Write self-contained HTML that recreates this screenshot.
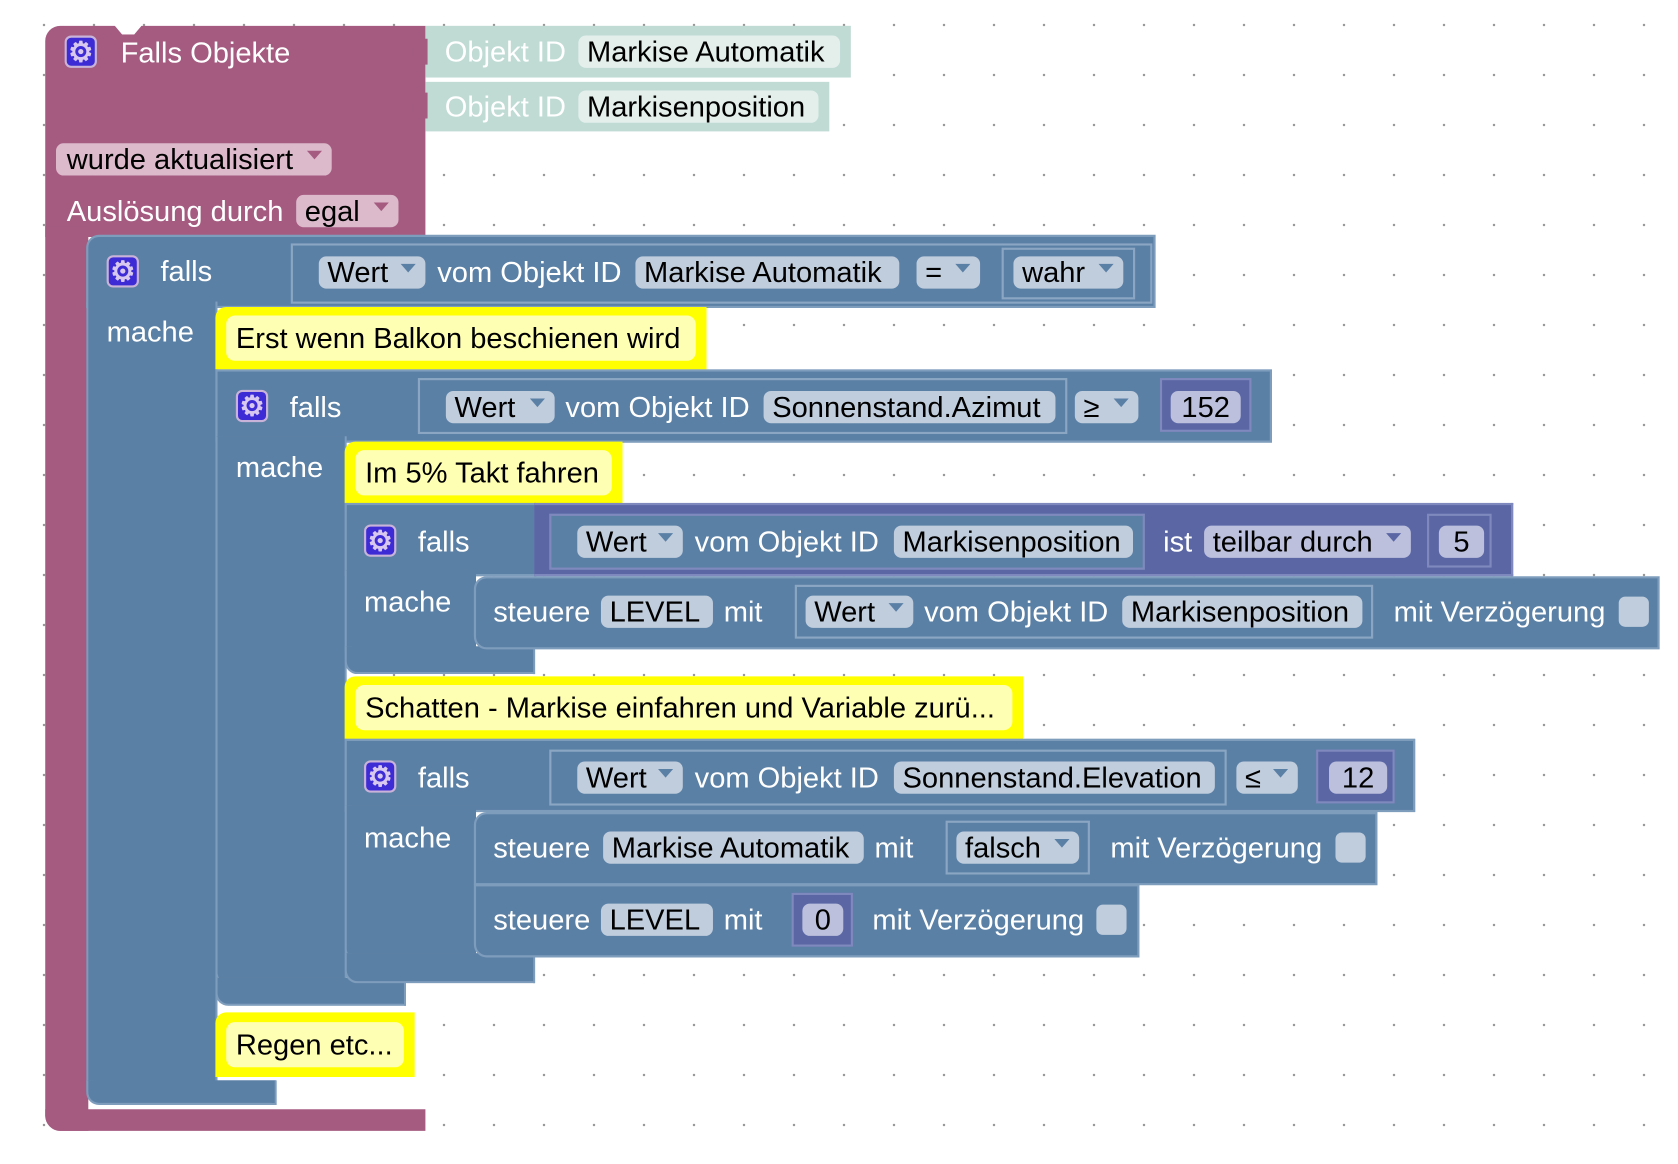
<!DOCTYPE html>
<html><head><meta charset="utf-8">
<style>
html,body{margin:0;padding:0;}
body{width:1678px;height:1164px;overflow:hidden;position:relative;background:#fff;
background-image:radial-gradient(circle,#999 1.1px,transparent 1.4px);background-size:50px 50px;background-position:19px 0px;}
#s{position:absolute;left:0;top:0;width:1558px;height:1081px;transform:scale(1.0770);transform-origin:0 0;font-family:"Liberation Sans",sans-serif;font-size:27px;}
#s div{position:absolute;box-sizing:border-box;}
.pu{background:#a55b80;}
.bl{background:#5b80a5;border:2px solid #7e9dbd;}
.in{background:#5b67a5;border:2px solid #7f89bd;}
.gr{background:#bfdbd4;}
.t{color:#fff;white-space:nowrap;line-height:30px;height:30px;}
.p{background:#c0cddd;color:#000;border-radius:7px;height:30px;line-height:30px;padding:0 8px;white-space:nowrap;}
.pp{background:#dcbacb;}
.pg{background:#e4efec;}
.pi{background:#bcc0dd;}
.ol{border:2px solid #8aa6c3;}
.g{width:30px;height:30px;background:#3d2bd6;border:2px solid #c9b3d8;border-radius:6px;color:#d8c8f0;font-size:26px;font-weight:bold;text-align:center;line-height:26px;}
.dd::after{content:"";position:absolute;right:9px;top:7px;border-left:7px solid transparent;border-right:7px solid transparent;border-top:8px solid #5b80a5;}
.ddp::after{border-top-color:#a55b80;}
.ddi::after{border-top-color:#5b67a5;}
.y{background:#ffff00;}
.yi{background:#ffffb3;border-radius:8px;color:#000;white-space:nowrap;line-height:42px;height:42px;padding:0 9px;}
.cb{width:28px;height:28px;background:#c0cddd;border-radius:6px;}
</style></head><body>
<div id="s">
<div class="pu" style="left:42px;top:24px;width:353px;height:196px;border-radius:14px 0 0 0;"></div>
<div class="pu" style="left:42px;top:210px;width:40px;height:840px;border-radius:0 0 0 14px;"></div>
<div class="pu" style="left:42px;top:1030px;width:353px;height:20px;border-radius:0 0 0 14px;"></div>
<div style="left:105px;top:22px;width:28px;height:10px;background:#fff;clip-path:polygon(0 0,100% 0,70% 100%,30% 100%);"></div>
<div class="g" style="left:60px;top:33px;">⚙</div>
<div class="t" style="left:112px;top:34px;">Falls Objekte</div>
<div class="gr" style="left:395px;top:24px;width:395px;height:48px;"></div>
<div class="gr" style="left:395px;top:76px;width:375px;height:46px;"></div>
<div class="pu" style="left:383px;top:36px;width:14px;height:24px;border-radius:8px 0 0 8px;"></div>
<div class="pu" style="left:383px;top:86px;width:14px;height:24px;border-radius:8px 0 0 8px;"></div>
<div class="t" style="left:413px;top:33px;">Objekt ID</div>
<div class="p pg" style="left:537px;top:33px;width:243px;">Markise Automatik</div>
<div class="t" style="left:413px;top:84px;">Objekt ID</div>
<div class="p pg" style="left:537px;top:84px;width:223px;">Markisenposition</div>
<div class="p pp dd ddp" style="left:52px;top:133px;width:256px;padding-left:10px;">wurde aktualisiert</div>
<div class="t" style="left:62px;top:181px;">Auslösung durch</div>
<div class="p pp dd ddp" style="left:275px;top:181px;width:95px;">egal</div>

<div class="bl" style="left:80px;top:218px;width:993px;height:68px;border-radius:12px 0 0 0;"></div>
<div class="bl" style="left:80px;top:280px;width:122px;height:745px;border-top:none;border-radius:0 0 0 12px;"></div>
<div class="bl" style="left:80px;top:1003px;width:177px;height:23px;border-top:none;border-radius:0 0 0 12px;"></div>
<div class="g" style="left:99px;top:237px;">⚙</div>
<div class="t" style="left:149px;top:237px;">falls</div>
<div class="t" style="left:99px;top:293px;">mache</div>
<div class="ol" style="left:270px;top:226px;width:800px;height:56px;"></div>
<div class="p dd" style="left:296px;top:238px;width:99px;">Wert</div>
<div class="t" style="left:406px;top:238px;">vom Objekt ID</div>
<div class="p" style="left:590px;top:238px;width:245px;">Markise Automatik</div>
<div class="p dd" style="left:851px;top:238px;width:59px;">=</div>
<div class="ol" style="left:930px;top:230px;width:124px;height:48px;"></div>
<div class="p dd" style="left:941px;top:238px;width:102px;">wahr</div>

<div class="y" style="left:200px;top:285px;width:456px;height:58px;border-radius:10px 0 0 0;"></div>
<div class="yi" style="left:210px;top:293px;width:436px;">Erst wenn Balkon beschienen wird</div>

<div class="bl" style="left:200px;top:343px;width:981px;height:68px;"></div>
<div class="bl" style="left:200px;top:405px;width:122px;height:510px;border-top:none;border-radius:0 0 0 12px;"></div>
<div class="bl" style="left:200px;top:908px;width:177px;height:26px;border-top:none;border-radius:0 0 0 12px;"></div>
<div class="g" style="left:219px;top:362px;">⚙</div>
<div class="t" style="left:269px;top:363px;">falls</div>
<div class="t" style="left:219px;top:419px;">mache</div>
<div class="ol" style="left:388px;top:351px;width:603px;height:52px;"></div>
<div class="p dd" style="left:414px;top:363px;width:101px;">Wert</div>
<div class="t" style="left:525px;top:363px;">vom Objekt ID</div>
<div class="p" style="left:709px;top:363px;width:271px;">Sonnenstand.Azimut</div>
<div class="p dd" style="left:998px;top:363px;width:59px;">≥</div>
<div class="in" style="left:1077px;top:351px;width:85px;height:50px;"></div>
<div class="p pi" style="left:1087px;top:363px;width:65px;text-align:center;">152</div>

<div class="y" style="left:320px;top:410px;width:258px;height:57px;border-radius:10px 0 0 0;"></div>
<div class="yi" style="left:330px;top:418px;width:238px;">Im 5% Takt fahren</div>

<div class="bl" style="left:320px;top:467px;width:178px;height:68px;"></div>
<div class="in" style="left:496px;top:467px;width:909px;height:68px;border-left:none;"></div>
<div class="bl" style="left:320px;top:530px;width:122px;height:85px;border-top:none;border-right:none;border-radius:0 0 0 12px;"></div>
<div class="bl" style="left:320px;top:600px;width:177px;height:26px;border-top:none;border-radius:0 0 0 12px;"></div>
<div class="g" style="left:338px;top:487px;">⚙</div>
<div class="t" style="left:388px;top:488px;">falls</div>
<div class="t" style="left:338px;top:544px;">mache</div>
<div class="ol" style="left:510px;top:477px;width:553px;height:52px;border-color:#7f89bd;background:#5b80a5;"></div>
<div class="p dd" style="left:536px;top:488px;width:98px;">Wert</div>
<div class="t" style="left:645px;top:488px;">vom Objekt ID</div>
<div class="p" style="left:830px;top:488px;width:222px;">Markisenposition</div>
<div class="t" style="left:1080px;top:488px;">ist</div>
<div class="p pi dd ddi" style="left:1118px;top:488px;width:192px;">teilbar durch</div>
<div class="in" style="left:1325px;top:477px;width:60px;height:50px;"></div>
<div class="p pi" style="left:1336px;top:488px;width:42px;text-align:center;">5</div>
<div class="bl" style="left:440px;top:535px;width:1101px;height:68px;border-radius:12px 0 0 12px;"></div>
<div class="t" style="left:458px;top:553px;">steuere</div>
<div class="p" style="left:558px;top:553px;width:104px;">LEVEL</div>
<div class="t" style="left:672px;top:553px;">mit</div>
<div class="ol" style="left:738px;top:543px;width:537px;height:50px;"></div>
<div class="p dd" style="left:748px;top:553px;width:100px;">Wert</div>
<div class="t" style="left:858px;top:553px;">vom Objekt ID</div>
<div class="p" style="left:1042px;top:553px;width:223px;">Markisenposition</div>
<div class="t" style="left:1294px;top:553px;">mit Verzögerung</div>
<div class="cb" style="left:1503px;top:554px;"></div>

<div class="y" style="left:320px;top:628px;width:630px;height:58px;border-radius:10px 0 0 0;"></div>
<div class="yi" style="left:330px;top:636px;width:610px;">Schatten - Markise einfahren und Variable zurü...</div>

<div class="bl" style="left:320px;top:686px;width:994px;height:68px;"></div>
<div class="bl" style="left:320px;top:748px;width:122px;height:145px;border-top:none;border-right:none;border-radius:0 0 0 12px;"></div>
<div class="bl" style="left:320px;top:885px;width:177px;height:28px;border-top:none;border-radius:0 0 0 12px;"></div>
<div class="g" style="left:338px;top:706px;">⚙</div>
<div class="t" style="left:388px;top:707px;">falls</div>
<div class="t" style="left:338px;top:763px;">mache</div>
<div class="ol" style="left:510px;top:696px;width:629px;height:52px;"></div>
<div class="p dd" style="left:536px;top:707px;width:98px;">Wert</div>
<div class="t" style="left:645px;top:707px;">vom Objekt ID</div>
<div class="p" style="left:830px;top:707px;width:298px;">Sonnenstand.Elevation</div>
<div class="p dd" style="left:1148px;top:707px;width:57px;">≤</div>
<div class="in" style="left:1222px;top:696px;width:73px;height:50px;"></div>
<div class="p pi" style="left:1234px;top:707px;width:54px;text-align:center;">12</div>
<div class="bl" style="left:440px;top:754px;width:839px;height:68px;border-radius:12px 0 0 0;"></div>
<div class="t" style="left:458px;top:772px;">steuere</div>
<div class="p" style="left:560px;top:772px;width:242px;">Markise Automatik</div>
<div class="t" style="left:812px;top:772px;">mit</div>
<div class="ol" style="left:878px;top:762px;width:134px;height:50px;"></div>
<div class="p dd" style="left:888px;top:772px;width:114px;">falsch</div>
<div class="t" style="left:1031px;top:772px;">mit Verzögerung</div>
<div class="cb" style="left:1240px;top:773px;"></div>
<div class="bl" style="left:440px;top:821px;width:618px;height:68px;border-radius:0 0 0 12px;"></div>
<div class="t" style="left:458px;top:839px;">steuere</div>
<div class="p" style="left:558px;top:839px;width:104px;">LEVEL</div>
<div class="t" style="left:672px;top:839px;">mit</div>
<div class="in" style="left:735px;top:829px;width:57px;height:50px;"></div>
<div class="p pi" style="left:745px;top:839px;width:38px;text-align:center;">0</div>
<div class="t" style="left:810px;top:839px;">mit Verzögerung</div>
<div class="cb" style="left:1018px;top:840px;"></div>

<div class="y" style="left:200px;top:940px;width:185px;height:60px;border-radius:10px 0 0 0;"></div>
<div class="yi" style="left:210px;top:949px;width:165px;">Regen etc...</div>
</div>
</body></html>
